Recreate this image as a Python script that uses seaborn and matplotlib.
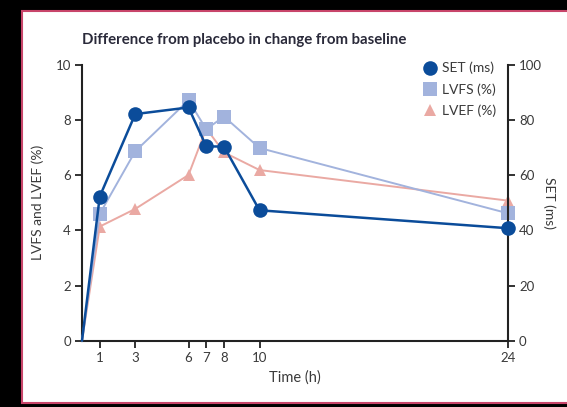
import matplotlib
matplotlib.use("Agg")
import matplotlib.pyplot as plt
from matplotlib.patches import Rectangle
from matplotlib.lines import Line2D
import seaborn as sns
import pandas as pd

time_h = [0, 1, 3, 6, 7, 8, 10, 24]
set_ms = [0, 52.3, 82.2, 84.6, 70.5, 70.4, 47.3, 40.8]
lvfs_pct = [0, 4.6, 6.87, 8.72, 7.67, 8.13, 6.99, 4.62]
lvef_pct = [0, 4.14, 4.78, 6.01, 7.7, 6.83, 6.19, 5.08]
x_ticks = [1, 3, 6, 7, 8, 10, 24]
left_ticks = [0, 2, 4, 6, 8, 10]
right_ticks = [0, 20, 40, 60, 80, 100]

C_SET = "#0b4c9a"
C_LVFS = "#a2b3dd"
C_LVEF = "#eaa9a3"
TXT = "#3a3a3a"

sns.set_style("white")
plt.rcParams["font.family"] = ["Lato", "DejaVu Sans"]

fig = plt.figure(figsize=(5.67, 4.07), dpi=100)
fig.patch.set_facecolor("black")
bg = Rectangle((22 / 567, 1 - 403 / 407), 1.2, (403 - 11) / 407,
               transform=fig.transFigure, facecolor="white",
               edgecolor="#c8456a", linewidth=1.5, zorder=-10)
fig.patches.append(bg)

ax = fig.add_axes([82 / 567, 1 - 340.7 / 407, (508 - 82) / 567, (340.7 - 65) / 407])
ax.set_facecolor("none")
ax2 = ax.twinx()
ax2.set_facecolor("none")

df = pd.DataFrame({"t": time_h, "SET": set_ms, "LVFS": lvfs_pct, "LVEF": lvef_pct})
mk = list(range(1, len(time_h)))

sns.lineplot(data=df, x="t", y="LVEF", ax=ax, color=C_LVEF, marker="^", markersize=9,
             markeredgewidth=0, markevery=mk, linewidth=1.4, clip_on=False, zorder=3)
sns.lineplot(data=df, x="t", y="LVFS", ax=ax, color=C_LVFS, marker="s", markersize=9.5,
             markeredgewidth=0, markevery=mk, linewidth=1.4, clip_on=False, zorder=4)
sns.lineplot(data=df, x="t", y="SET", ax=ax2, color=C_SET, marker="o", markersize=10.5,
             markeredgewidth=0, markevery=mk, linewidth=1.8, clip_on=False, zorder=5)

ax.set_xlim(0, 24)
ax.set_ylim(0, 10)
ax2.set_ylim(0, 100)
ax.set_xticks(x_ticks)
ax.set_yticks(left_ticks)
ax2.set_yticks(right_ticks)

for a in (ax, ax2):
    for s in a.spines.values():
        s.set_visible(False)
ax.spines["left"].set_visible(True)
ax.spines["bottom"].set_visible(True)
ax2.spines["right"].set_visible(True)
for s in (ax.spines["left"], ax.spines["bottom"], ax2.spines["right"]):
    s.set_color("#222222")
    s.set_linewidth(1.5)

ax.tick_params(axis="both", direction="out", length=5, width=1.3, color="#222222",
               labelsize=9.5, labelcolor=TXT, pad=3, left=True, bottom=True)
ax2.tick_params(axis="y", direction="out", length=5, width=1.3, color="#222222",
                labelsize=9.5, labelcolor=TXT, pad=3, right=True)

ax.set_xlabel("Time (h)", fontsize=10.5, color=TXT, labelpad=5)
ax.set_ylabel("LVFS and LVEF (%)", fontsize=10, color=TXT, labelpad=8)
ax2.set_ylabel("SET (ms)", fontsize=10, color=TXT, rotation=270, labelpad=10)

fig.text(82 / 567, 1 - 40 / 407, "Difference from placebo in change from baseline",
         fontsize=10.8, fontweight="bold", color="#2a2a3a", va="center", ha="left")

handles = [
    Line2D([], [], linestyle="none", marker="o", markersize=10.5, color=C_SET, markeredgewidth=0),
    Line2D([], [], linestyle="none", marker="s", markersize=9.5, color=C_LVFS, markeredgewidth=0),
    Line2D([], [], linestyle="none", marker="^", markersize=9, color=C_LVEF, markeredgewidth=0),
]
leg = ax2.legend(handles, ["SET (ms)", "LVFS (%)", "LVEF (%)"], loc="upper left",
                 bbox_to_anchor=(416 / 567, 1 - 55 / 407), bbox_transform=fig.transFigure,
                 frameon=False, fontsize=10, handlelength=1.0, handletextpad=0.35,
                 labelspacing=0.62, borderpad=0)
for t in leg.get_texts():
    t.set_color(TXT)

fig.savefig("out.png", dpi=100, facecolor=fig.get_facecolor())
